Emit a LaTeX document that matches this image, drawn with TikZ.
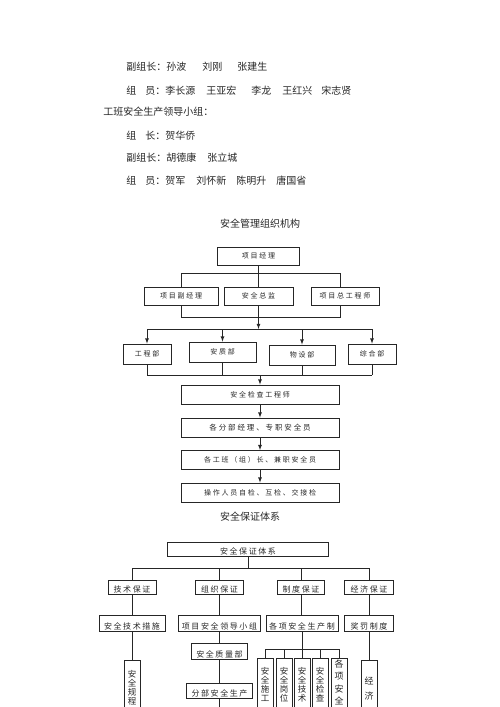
\documentclass[tikz,border=0pt]{standalone}
\usepackage{fontspec}
\setmainfont{Noto Sans CJK SC}
\newfontfamily\boxfont[LetterSpace=25]{Noto Sans CJK SC}
\newfontfamily\guarfont[LetterSpace=20]{Noto Sans CJK SC}
\usetikzlibrary{positioning}

\tikzset{
  plain/.style={anchor=west, inner sep=0pt, font={\fontsize{10}{12}\selectfont}},
  orgbox/.style={draw, inner sep=0pt, minimum height=18, font={\boxfont\fontsize{7}{8}\selectfont}},
  guarbox/.style={draw, inner sep=0pt, text height=12.5pt, text depth=1.5pt, font={\guarfont\fontsize{8}{9}\selectfont}},
  vbox/.style={draw, anchor=north, inner sep=0pt, minimum width=16, minimum height=70},
  vtext/.style={anchor=north, inner sep=0pt, align=center}
}

\begin{document}
\begin{tikzpicture}[x=1pt,y=-1pt,line width=0.8pt,color=black!85]
\useasboundingbox (0,0) rectangle (500,707);
\clip (0,0) rectangle (500,707);

% name lists
\node[plain] (l1) at (126,67) {副组长：孙波\hspace{16pt}刘刚\hspace{15pt}张建生};
\node[plain] (l2) at (126,91) {组\hspace{9pt}员：李长源\hspace{11pt}王亚宏\hspace{15pt}李龙\hspace{11pt}王红兴\hspace{9pt}宋志贤};
\node[plain] (l3) at (103,112) {工班安全生产领导小组：};
\node[plain] (l4) at (126,136) {组\hspace{9pt}长：贺华侨};
\node[plain] (l5) at (126,158) {副组长：胡德康\hspace{11pt}张立城};
\node[plain] (l6) at (126,181) {组\hspace{9pt}员：贺军\hspace{11pt}刘怀新\hspace{10pt}陈明升\hspace{10pt}唐国省};

% organisation chart
\node[plain,anchor=center] (t1) at (260,224) {安全管理组织机构};

\node[orgbox,minimum width=82] (pm) at (258.5,256) {项目经理};
\node[orgbox,minimum width=74] (dpm) at (181,296) {项目副经理};
\node[orgbox,minimum width=69] (sd) at (258.5,296) {安全总监};
\node[orgbox,minimum width=68] (ce) at (345,296) {项目总工程师};

\node[orgbox,minimum width=48,minimum height=20] (gc) at (147,354) {工程部};
\node[orgbox,minimum width=67,minimum height=20] (aq) at (222.5,352) {安质部};
\node[orgbox,minimum width=66,minimum height=20] (wz) at (302,355) {物设部};
\node[orgbox,minimum width=48,minimum height=20] (zh) at (372,354) {综合部};

\node[orgbox,minimum width=158,minimum height=19] (ins) at (260,394.5) {安全检查工程师};
\node[orgbox,minimum width=158,minimum height=19,font={\boxfont\fontsize{7.5}{8}\selectfont}] (mgr) at (260,427.5) {各分部经理、专职安全员};
\node[orgbox,minimum width=158,minimum height=19] (grp) at (260,460) {各工班（组）长、兼职安全员};
\node[orgbox,minimum width=158,minimum height=19] (op) at (260,492.5) {操作人员自检、互检、交接检};

\coordinate (j1) at (258.5,273);
\coordinate (c1) at (181,273);
\coordinate (c3) at (340,273);
\coordinate (j2) at (258.5,317);
\coordinate (j3) at (258.5,329);
\coordinate (j4) at (260,375);

\draw (pm) -- (j1);
\draw (c1 |- dpm.north) -- (c1) -- (c3) -- (c3 |- ce.north);
\draw (j1) -- (sd);
\draw (c1 |- dpm.south) -- (c1 |- j2) -- (c3 |- j2) -- (c3 |- ce.south);
\draw[-latex] (sd) -- (j3);
\draw (gc |- j3) -- (zh |- j3);
\foreach \n in {gc,aq,wz,zh}{
\draw[-latex] (\n |- j3) -- (\n);
\draw (\n) -- (\n |- j4);
}
\draw (gc |- j4) -- (zh |- j4);
\draw[-latex] (j4) -- (ins);
\draw[-latex] (ins) -- (mgr);
\draw[-latex] (mgr) -- (grp);
\draw[-latex] (grp) -- (op);

% guarantee system
\node[plain,anchor=center] (t2) at (250,517) {安全保证体系};

\node[guarbox,minimum width=161] (sys) at (248,549) {安全保证体系};

\node[guarbox,minimum width=48] (tg) at (132,587) {技术保证};
\node[guarbox,minimum width=48] (zg) at (219.5,587) {组织保证};
\node[guarbox,minimum width=47] (zd) at (301,587) {制度保证};
\node[guarbox,minimum width=49] (jj) at (369,587) {经济保证};

\node[guarbox,text height=14.5pt,minimum width=66] (cs) at (132,623) {安全技术措施};
\node[guarbox,text height=14.5pt,minimum width=82] (ld) at (219.5,623) {项目安全领导小组};
\node[guarbox,text height=14.5pt,minimum width=72] (zz) at (302,623) {各项安全生产制};
\node[guarbox,text height=14.5pt,minimum width=49] (jf) at (369,623) {奖罚制度};

\node[guarbox,text height=14.5pt,minimum width=56] (zl) at (219.5,651) {安全质量部};
\node[guarbox,text height=13.5pt,minimum width=66] (fb) at (219.5,690.5) {分部安全生产};

\node[vbox] (gf) at (132,660) {};
\node[vbox] (v1) at (265,658) {};
\node[vbox] (v2) at (284,658) {};
\node[vbox] (v3) at (302,658) {};
\node[vbox] (v4) at (320,658) {};
\node[vbox] (v5) at (339,658) {};
\node[vbox] (jb) at (369,660) {};

\node[vtext,below=10pt of gf.north,font={\fontsize{8.5}{9}\selectfont}] (gft) {安\\全\\规\\程};
\node[vtext,below=9pt of v1.north,font={\fontsize{8.5}{9}\selectfont}] (v1t) {安\\全\\施\\工};
\node[vtext,below=9pt of v2.north,font={\fontsize{8.5}{9}\selectfont}] (v2t) {安\\全\\岗\\位};
\node[vtext,below=9pt of v3.north,font={\fontsize{8.5}{9}\selectfont}] (v3t) {安\\全\\技\\术};
\node[vtext,below=9pt of v4.north,font={\fontsize{8.5}{9}\selectfont}] (v4t) {安\\全\\检\\查};
\node[vtext,below=1pt of v5.north,font={\fontsize{9}{12.5}\selectfont}] (v5t) {各\\项\\安\\全};
\node[vtext,below=17pt of jb.north,font={\fontsize{9}{15}\selectfont}] (jbt) {经\\济};

\coordinate (k1) at (248,568);
\coordinate (k2) at (302,649);
\coordinate (bot) at (0,715);

\draw (sys) -- (k1);
\draw (tg |- k1) -- (jj |- k1);
\foreach \a/\b in {tg/cs,zg/ld,zd/zz,jj/jf}{
\draw (\a |- k1) -- (\a);
\draw (\a) -- (\a |- \b.north);
}
\draw (cs) -- (gf);
\draw (ld) -- (zl);
\draw (zl) -- (fb);
\draw (fb) -- (fb |- bot);
\draw (zz) -- (k2);
\draw (v1 |- k2) -- (v5 |- k2);
\foreach \n in {v1,v2,v3,v4,v5}{
\draw (\n |- k2) -- (\n);
}
\draw (jf) -- (jb);

\end{tikzpicture}
\end{document}
